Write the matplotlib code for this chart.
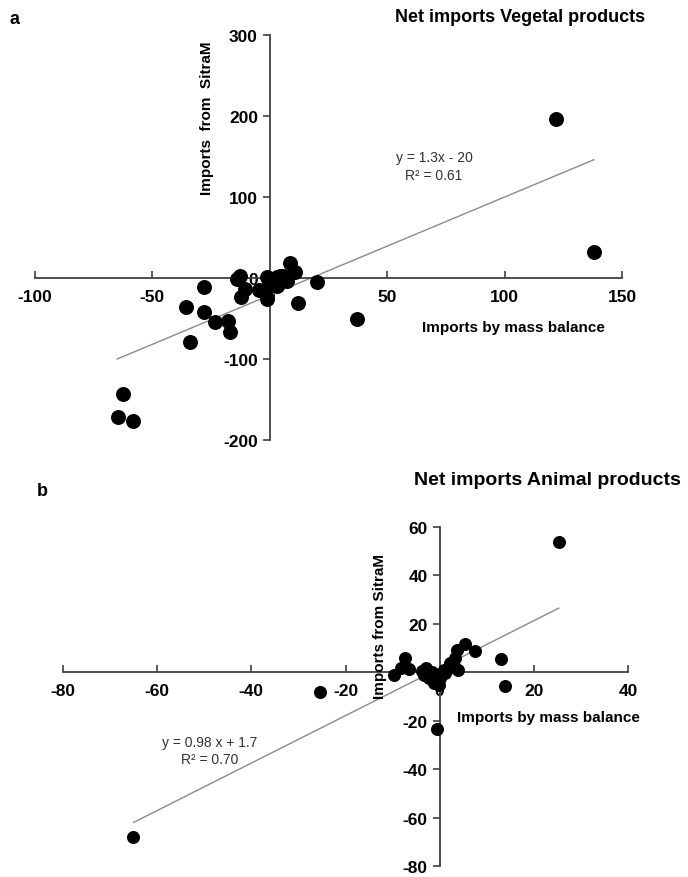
import matplotlib
matplotlib.use("Agg")
import matplotlib.pyplot as plt

plt.rcParams['font.family'] = ['Liberation Sans', 'DejaVu Sans']
plt.rcParams['axes.unicode_minus'] = False

# panel a: vegetal products
veg_x = [8.6, 10.8, 20, 12.2, -28.2, -35.6, -28, -23.3, -17.6, -16.9, -33.9,
         -14, -12.6, -10.5, -12.3, -4.8, -1.3, -0.6, -1.3, 3, 4.4, 7.2, 3, 0.9,
         5.8, -62.6, -64.7, -58.3, 37, 122, 138]
veg_y = [18.5, 7, -4.6, -31.2, -11.5, -36.2, -42.4, -54, -52.7, -67, -79.4,
         -1.2, 2.8, -13.6, -23.8, -14.4, 0.9, -11.5, -25.9, -9.5, 2.9, -3.3, 0.9,
         -5.3, 2.9, -143, -171, -177, -50, 196, 32]
veg_fit_x = [-65, 138]
veg_fit_y = [-100, 146]

# panel b: animal products
ani_x = [-9.7, -8.3, -7.3, -6.5, -3.7, -3, -3.4, -2.3, -1.3, -0.2, 0.1, 1.2,
         1.9, 3, 3.3, 3.7, 4, 5.4, 7.5, -0.6, -1.6, 0.85, 2.3,
         -25.4, -0.5, -65.2, 25.3, 13, 13.9]
ani_y = [-1.1, 1.7, 6.1, 1.4, 0.6, 1.9, -1.1, -2.5, -4.5, -5.2, -2.5, -0.4,
         1.7, 2.8, 5.8, 9.2, 1, 11.7, 8.8, -1.1, 0.3, 1, 3.7,
         -8.3, -23.4, -67.9, 53.8, 5.5, -5.8]
ani_fit_x = [-65, 25.3]
ani_fit_y = [-62, 26.5]

W, H = 688, 878
fig = plt.figure(figsize=(W / 100, H / 100), dpi=100)


def fx(x):
    return x / W


def fy(y):
    return 1 - y / H


def style_axes(ax):
    for s in ['top', 'right']:
        ax.spines[s].set_visible(False)
    ax.spines['left'].set_position(('data', 0))
    ax.spines['bottom'].set_position(('data', 0))
    for s in ['left', 'bottom']:
        ax.spines[s].set_color('#404040')
        ax.spines[s].set_linewidth(1.3)
    ax.tick_params(axis='x', direction='in', length=5, width=1.2, color='#404040',
                   labelsize=12.5, pad=8)
    ax.tick_params(axis='y', direction='out', length=5, width=1.2, color='#404040',
                   labelsize=12.5)
    for lab in ax.get_xticklabels() + ax.get_yticklabels():
        lab.set_fontweight('bold')
    ax.patch.set_alpha(0)


# ---- a
axa = fig.add_axes([fx(35), fy(441), fx(622 - 35), (441 - 36) / H])
axa.scatter(veg_x, veg_y, s=95, color='black', zorder=3)
axa.plot(veg_fit_x, veg_fit_y, color='#8a8a8a', lw=1, zorder=2)
axa.set_xlim(-100, 150)
axa.set_ylim(-200, 300)
axa.set_xticks([-100, -50, 0, 50, 100, 150])
axa.set_yticks([-200, -100, 0, 100, 200, 300])
style_axes(axa)

fig.text(fx(15), fy(20), 'a', fontsize=13, fontweight='bold', ha='center', va='center')
fig.text(fx(520), fy(18), 'Net imports Vegetal products', fontsize=13,
         fontweight='bold', ha='center', va='center')
fig.text(fx(207), fy(118), 'Imports  from  SitraM', fontsize=11, fontweight='bold',
         rotation=90, ha='center', va='center')
fig.text(fx(513), fy(328), 'Imports by mass balance', fontsize=11,
         fontweight='bold', ha='center', va='center')
fig.text(fx(434), fy(158), 'y = 1.3x - 20', fontsize=10, ha='center', va='center',
         color='#303030')
fig.text(fx(434), fy(176), 'R² = 0.61', fontsize=10, ha='center', va='center',
         color='#303030')

# ---- b
axb = fig.add_axes([fx(63), fy(867), fx(628 - 63), (867 - 528) / H])
axb.scatter(ani_x, ani_y, s=70, color='black', zorder=3)
axb.plot(ani_fit_x, ani_fit_y, color='#8a8a8a', lw=1, zorder=2)
axb.set_xlim(-80, 40)
axb.set_ylim(-80, 60)
axb.set_xticks([-80, -60, -40, -20, 0, 20, 40])
axb.set_yticks([-80, -60, -40, -20, 0, 20, 40, 60])
style_axes(axb)

fig.text(fx(42), fy(492), 'b', fontsize=13, fontweight='bold', ha='center', va='center')
fig.text(fx(547), fy(481), 'Net imports Animal products', fontsize=14,
         fontweight='bold', ha='center', va='center')
fig.text(fx(380), fy(627), 'Imports from SitraM', fontsize=11, fontweight='bold',
         rotation=90, ha='center', va='center')
fig.text(fx(548), fy(718), 'Imports by mass balance', fontsize=11,
         fontweight='bold', ha='center', va='center')
fig.text(fx(210), fy(743), 'y = 0.98 x + 1.7', fontsize=10, ha='center', va='center',
         color='#303030')
fig.text(fx(210), fy(760), 'R² = 0.70', fontsize=10, ha='center', va='center',
         color='#303030')

fig.savefig('out.png', dpi=100)
